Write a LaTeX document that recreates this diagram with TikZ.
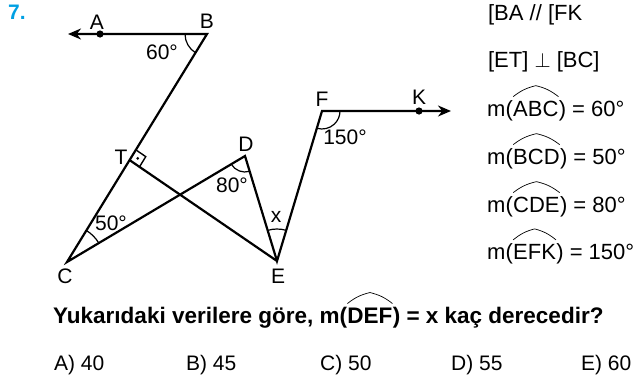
\documentclass[tikz,border=0pt]{standalone}
\usepackage{fontspec}
\setmainfont{Liberation Sans}
\usepackage{xcolor}
\definecolor{qblue}{RGB}{0,160,227}
\usetikzlibrary{arrows.meta, angles, calc}

\newcommand{\arcover}[1]{\tikz[baseline=(w.base)]{\node[inner sep=0pt, outer sep=0pt] (w) {#1};
  \draw[line width=0.7pt] ([yshift=4pt]w.north west) to[bend left=12] ([yshift=15pt]w.north) to[bend left=12] ([yshift=4pt]w.north east);}}

\tikzset{
  lbl/.style={font=\fontsize{21}{25}\selectfont, inner sep=0pt},
  given/.style={font=\fontsize{22}{26}\selectfont, inner sep=0pt, anchor=base west},
  angarc/.style={draw, line width=1.2pt}
}

\begin{document}
\begin{tikzpicture}[x=1pt, y=-1pt, line width=2.2pt, >={Stealth[length=13pt, width=11pt]}]
  \useasboundingbox (0,0) rectangle (637,381);

  % Points
  \coordinate (a0) at (68,34);
  \coordinate (A) at (100,34);
  \coordinate (B) at (207,34);
  \coordinate (C) at (67,262);
  \coordinate (D) at (245,156);
  \coordinate (E) at (277,261);
  \coordinate (F) at (322,111);
  \coordinate (K) at (419,111);
  \coordinate (k0) at (451,111);
  \coordinate (T) at ($(B)!0.553!(C)$);

  % Broken line with the two rays
  \draw[<->] (a0) -- (B) -- (C) -- (D) -- (E) -- (F) -- (k0);
  \draw (T) -- (E);
  \fill (A) circle (3.6pt);
  \fill (K) circle (3.6pt);

  % Right angle at T
  \coordinate (tb) at ($(T)!12pt!(B)$);
  \coordinate (te) at ($(T)!12pt!(E)$);
  \coordinate (tq) at ($(tb)+(te)-(T)$);
  \draw[line width=1.4pt] (tb) -- (tq) -- (te);
  \fill ($(T)!0.5!(tq)$) circle (1.5pt);

  % Angle marks
  \pic[angarc, angle radius=22pt] {angle = A--B--C};
  \pic[angarc, angle radius=37pt] {angle = D--C--B};
  \pic[angarc, angle radius=16pt] {angle = C--D--E};
  \pic[angarc, angle radius=32pt] {angle = F--E--D};
  \pic[angarc, angle radius=18pt] {angle = E--F--K};

  % Point labels
  \node[lbl] (labA) at (97,22) {A};
  \node[lbl] (labB) at (207,21) {B};
  \node[lbl] (labC) at (65,276) {C};
  \node[lbl] (labD) at (246,144) {D};
  \node[lbl] (labE) at (278,276) {E};
  \node[lbl] (labF) at (322,99) {F};
  \node[lbl] (labK) at (419,97) {K};
  \node[lbl] (labT) at (121,157) {T};

  % Angle labels
  \node[lbl] (ang60) at (162,52) {60°};
  \node[lbl] (ang50) at (111,223) {50°};
  \node[lbl] (ang80) at (232,185) {80°};
  \node[lbl] (angx) at (276,217) {x};
  \node[lbl] (ang150) at (345,137) {150°};

  % Question number
  \node[lbl, font=\fontsize{21}{25}\selectfont\bfseries, qblue] (qnum) at (17,12) {7.};

  % Given data
  \node[given] (g1) at (487,20) {[BA // [FK};
  \node[given] (g2) at (487,67) {[ET] $\perp$ [BC]};
  \node[given] (g3) at (487,116) {m(\arcover{ABC}) = 60°};
  \node[given] (g4) at (487,164) {m(\arcover{BCD}) = 50°};
  \node[given] (g5) at (487,212) {m(\arcover{CDE}) = 80°};
  \node[given] (g6) at (487,259) {m(\arcover{EFK}) = 150°};

  % Question and choices
  \node[lbl, anchor=base west, font=\fontsize{22.5}{27}\selectfont\bfseries] (quest) at (53,323)
    {Yukarıdaki verilere göre, m(\arcover{DEF}) = x kaç derecedir?};
  \node[lbl, anchor=base west] (optA) at (53,370) {A) 40};
  \node[lbl, anchor=base west] (optB) at (185,370) {B) 45};
  \node[lbl, anchor=base west] (optC) at (319,370) {C) 50};
  \node[lbl, anchor=base west] (optD) at (450,370) {D) 55};
  \node[lbl, anchor=base west] (optE) at (580,370) {E) 60};
\end{tikzpicture}
\end{document}
